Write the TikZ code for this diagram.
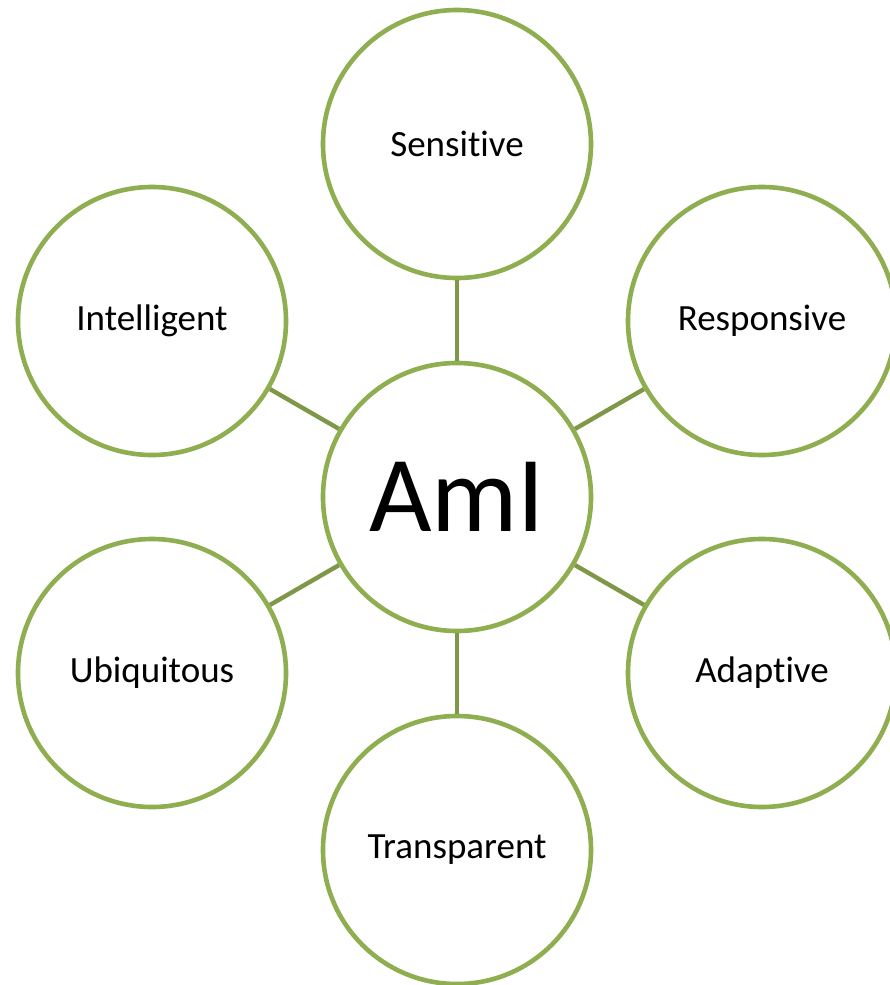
\documentclass[tikz,border=0pt]{standalone}
\usepackage{fontspec}
\setmainfont[Ligatures=NoCommon,RawFeature={-liga;-clig;-dlig}]{Carlito}
\definecolor{ringgreen}{HTML}{8EAE50}
\definecolor{linkgreen}{HTML}{7E9848}
\begin{document}
\begin{tikzpicture}[x=1pt,y=-1pt,
  bubble/.style={circle,draw=ringgreen,line width=4.6pt,fill=white,minimum size=268pt,inner sep=0pt,font=\fontsize{37}{44}\selectfont},
  hub/.style={bubble,font=\fontsize{108}{120}\selectfont},
  link/.style={draw=linkgreen,line width=4.4pt}]
\useasboundingbox (0,0) rectangle (889,985);
\node[hub] (c) at (457,497) {AmI};
\node[bubble] (s) at (457,144) {Sensit\kern0pt ive};
\node[bubble] (r) at (762,321) {Responsive};
\node[bubble] (a) at (762,673) {Adapt\kern0pt ive};
\node[bubble] (t) at (457,850) {Transparent};
\node[bubble] (u) at (152,673) {Ubiquitous};
\node[bubble] (i) at (152,321) {Intelligent};
\foreach \n in {s,r,a,t,u,i} \path[link] (c) -- (\n);
\end{tikzpicture}
\end{document}
